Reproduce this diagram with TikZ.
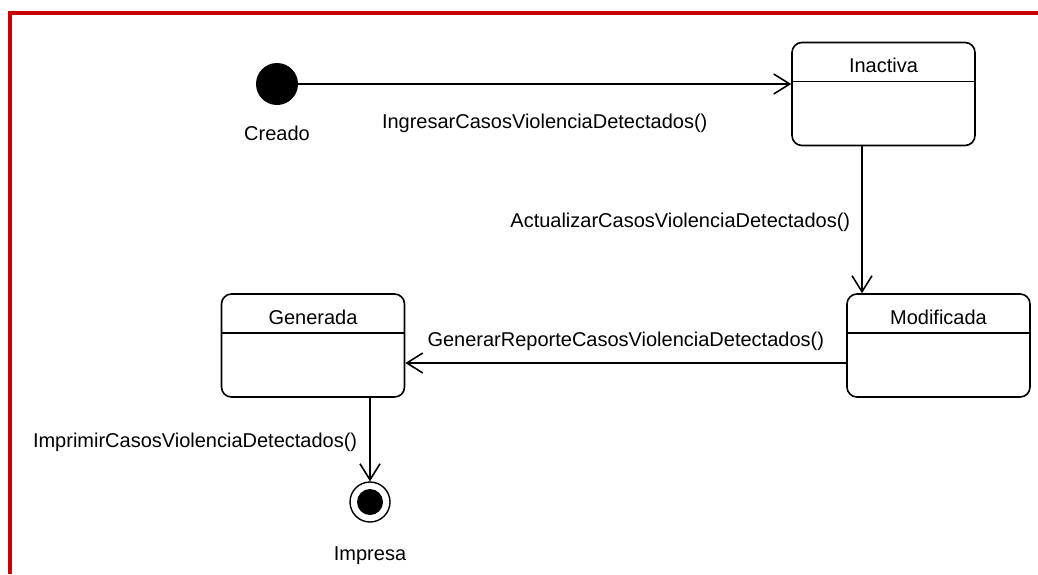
\documentclass[tikz,border=0pt]{standalone}
\usepackage{fontspec}
\setmainfont{Liberation Sans}
\usepackage{xcolor}
\usetikzlibrary{arrows.meta, shapes.geometric, calc}
\definecolor{framered}{RGB}{200,0,0}
\tikzstyle{arrow} = [line width=1.6pt, -{Straight Barb[length=16pt,width=20pt]}]

\begin{document}
\begin{tikzpicture}[x=1pt, y=-1pt, font=\fontsize{20}{24}\selectfont]
\tikzstyle{statebox} = [rectangle, rounded corners=10pt, draw=black, line width=1.6pt, minimum width=183pt, inner xsep=0pt, inner ysep=0pt, text height=30pt, text depth=73pt, path picture={\draw[line width=1.6pt] ([yshift=-39pt]path picture bounding box.north west) -- ([yshift=-39pt]path picture bounding box.north east);}]
\tikzstyle{startstate} = [circle, fill=black, minimum size=42pt, inner sep=0pt]
\tikzstyle{endstate} = [circle, draw=black, line width=1.4pt, minimum size=40pt, inner sep=0pt, path picture={\fill[black] (path picture bounding box.center) circle (13pt);}]
\tikzstyle{lbl} = [inner sep=0pt, text=black]

\useasboundingbox (0,0) rectangle (1038,574);
\draw [framered, line width=4pt] (9.5,574) -- (9.5,13.3) -- (1038,13.3);

\node (creado) [startstate, label={[lbl, label distance=21pt]below:Creado}] at (277,84) {};
\node (inactiva) [statebox] at (883.5,94) {Inactiva};
\node (modificada) [statebox] at (938.5,345.5) {Modificada};
\node (generada) [statebox] at (313,345.5) {Generada};
\node (impresa) [endstate, label={[lbl, label distance=24pt]below:Impresa}] at (370,502) {};

\draw [arrow] (creado) -- node[lbl, yshift=-39pt] (ingresar) {IngresarCasosViolenciaDetectados()} (creado -| inactiva.west);
\draw [arrow] ([xshift=-21.5pt]inactiva.south) -- node[lbl, anchor=east, xshift=-11pt, yshift=-3pt] (actualizar) {ActualizarCasosViolenciaDetectados()} ([xshift=-21.5pt]inactiva.south |- modificada.north);
\draw [arrow] ([yshift=-17.5pt]modificada.west) -- node[lbl, yshift=22pt] (generar) {GenerarReporteCasosViolenciaDetectados()} ([yshift=-17.5pt]modificada.west -| generada.east);
\draw [arrow] (impresa.north |- generada.south) -- node[lbl, anchor=east, xshift=-12pt, yshift=-2.5pt] (imprimir) {ImprimirCasosViolenciaDetectados()} (impresa);

\end{tikzpicture}
\end{document}
